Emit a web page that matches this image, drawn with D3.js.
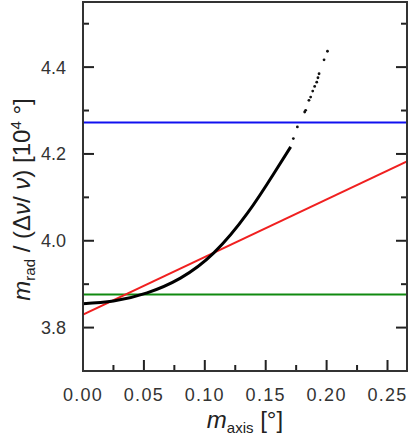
<!DOCTYPE html>
<html>
<head>
<meta charset="utf-8">
<script src="https://cdn.jsdelivr.net/npm/d3@7"></script>
<style>
  html, body { margin: 0; padding: 0; background: #fff; }
  svg { display: block; font-family: "Liberation Sans", Arial, Helvetica, sans-serif; }
</style>
</head>
<body>
<div id="chart"></div>
<script>
// tick values
const xMajor = [0.00, 0.05, 0.10, 0.15, 0.20, 0.25];
const xMinor = [0.025, 0.075, 0.125, 0.175, 0.225];
const yMajor = [3.8, 4.0, 4.2, 4.4];
const yMinor = [3.9, 4.1, 4.3, 4.5];

// reference levels
const blueLevel = 4.2725;
const greenLevel = 3.876;
// red straight line: value at x=0 and at right edge
const redLine = [[0, 3.830], [0.266, 4.183]];

// black curve, solid part
const curveX = [0.000, 0.025, 0.0526, 0.080, 0.1074, 0.135, 0.1567, 0.1705];
const curveY = [3.855, 3.861, 3.880, 3.914, 3.972, 4.0635, 4.155, 4.2163];
// sparse points beyond
const dotX = [0.1727, 0.1760, 0.1820, 0.1828, 0.1855, 0.1869, 0.1886, 0.1902, 0.1919, 0.1929, 0.1938, 0.1979, 0.2007];
const dotY = [4.2354, 4.2622, 4.2966, 4.3005, 4.3234, 4.3310, 4.3447, 4.3555, 4.3654, 4.3755, 4.3847, 4.4167, 4.4365];

const width = 411, height = 435;
const margin = { top: 2, right: 4, bottom: 64, left: 83 };
const innerW = width - margin.left - margin.right;
const innerH = height - margin.top - margin.bottom;

const x = d3.scaleLinear().domain([0, 0.266]).range([0, innerW]);
const y = d3.scaleLinear().domain([3.70, 4.55]).range([innerH, 0]);

const svg = d3.select('#chart').append('svg')
  .attr('width', width)
  .attr('height', height);

svg.append('clipPath').attr('id', 'plot-clip')
  .append('rect').attr('width', innerW).attr('height', innerH);

const g = svg.append('g')
  .attr('transform', `translate(${margin.left}, ${margin.top})`);

const plot = g.append('g').attr('clip-path', 'url(#plot-clip)');

// horizontal levels
plot.append('line')
  .attr('x1', 0).attr('x2', innerW)
  .attr('y1', y(blueLevel)).attr('y2', y(blueLevel))
  .attr('stroke', '#1010f0').attr('stroke-width', 2);

plot.append('line')
  .attr('x1', 0).attr('x2', innerW)
  .attr('y1', y(greenLevel)).attr('y2', y(greenLevel))
  .attr('stroke', '#108a10').attr('stroke-width', 2);

// red line
plot.append('path')
  .datum(redLine)
  .attr('d', d3.line().x(d => x(d[0])).y(d => y(d[1])))
  .attr('fill', 'none')
  .attr('stroke', '#f02020')
  .attr('stroke-width', 2);

// black curve
const curvePts = curveX.map((v, i) => [v, curveY[i]]);
plot.append('path')
  .datum(curvePts)
  .attr('d', d3.line().x(d => x(d[0])).y(d => y(d[1])).curve(d3.curveNatural))
  .attr('fill', 'none')
  .attr('stroke', '#000')
  .attr('stroke-width', 3);

plot.selectAll('circle.dot')
  .data(dotX.map((v, i) => [v, dotY[i]]))
  .join('circle')
  .attr('class', 'dot')
  .attr('cx', d => x(d[0]))
  .attr('cy', d => y(d[1]))
  .attr('r', 1.4)
  .attr('fill', '#111');

// inward ticks drawn as rects
const tickW = 2;
const tg = g.append('g').attr('fill', '#222');
xMajor.forEach(v => tg.append('rect').attr('x', x(v) - tickW / 2).attr('y', innerH - 11).attr('width', tickW).attr('height', 11));
xMinor.forEach(v => tg.append('rect').attr('x', x(v) - tickW / 2).attr('y', innerH - 6).attr('width', tickW).attr('height', 6));
yMajor.forEach(v => {
  tg.append('rect').attr('x', 0).attr('y', y(v) - tickW / 2).attr('width', 11).attr('height', tickW);
  tg.append('rect').attr('x', innerW - 11).attr('y', y(v) - tickW / 2).attr('width', 11).attr('height', tickW);
});
yMinor.forEach(v => {
  tg.append('rect').attr('x', 0).attr('y', y(v) - tickW / 2).attr('width', 6).attr('height', tickW);
  tg.append('rect').attr('x', innerW - 6).attr('y', y(v) - tickW / 2).attr('width', 6).attr('height', tickW);
});

// frame
g.append('rect')
  .attr('width', innerW).attr('height', innerH)
  .attr('fill', 'none')
  .attr('stroke', '#333')
  .attr('stroke-width', 2);

// tick labels
g.append('g').selectAll('text').data(xMajor).join('text')
  .attr('x', d => x(d))
  .attr('y', innerH + 30)
  .attr('text-anchor', 'middle')
  .attr('font-size', 18)
  .attr('letter-spacing', 1.3)
  .attr('fill', '#333')
  .text(d => d.toFixed(2));

g.append('g').selectAll('text').data(yMajor).join('text')
  .attr('x', -17)
  .attr('y', d => y(d) + 6.5)
  .attr('text-anchor', 'end')
  .attr('font-size', 18)
  .attr('fill', '#333')
  .text(d => d.toFixed(1));

// x axis title
const xt = svg.append('text')
  .attr('x', margin.left + x(0.133))
  .attr('y', 428)
  .attr('text-anchor', 'middle')
  .attr('font-size', 24)
  .attr('fill', '#222');
xt.append('tspan').attr('font-style', 'italic').text('m');
xt.append('tspan').attr('font-size', 15).attr('dy', 5).text('axis');
xt.append('tspan').attr('dy', -5).text(' [°]');

// y axis title
const yt = svg.append('text')
  .attr('transform', `translate(30, ${margin.top + y(4.095)}) rotate(-90)`)
  .attr('text-anchor', 'middle')
  .attr('font-size', 24)
  .attr('fill', '#222');
yt.append('tspan').attr('font-style', 'italic').text('m');
yt.append('tspan').attr('font-size', 15).attr('dy', 5).text('rad');
yt.append('tspan').attr('dy', -5).text(' / (Δ');
yt.append('tspan').attr('font-style', 'italic').text('ν');
yt.append('tspan').text('/ ');
yt.append('tspan').attr('font-style', 'italic').text('ν');
yt.append('tspan').text(') [10');
yt.append('tspan').attr('font-size', 15).attr('dy', -9).text('4');
yt.append('tspan').attr('dy', 9).text(' °]');
</script>
</body>
</html>
